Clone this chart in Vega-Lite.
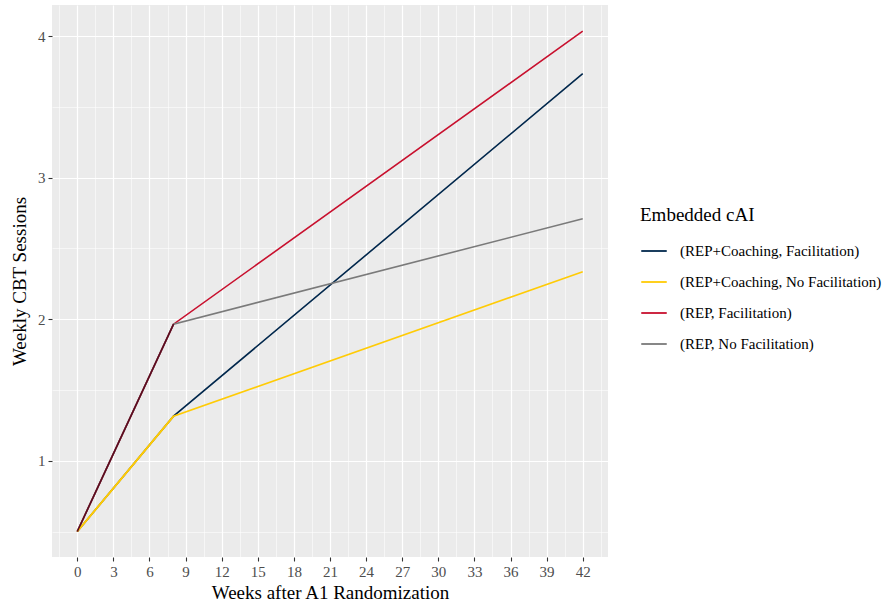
{
  "$schema": "https://vega.github.io/schema/vega-lite/v6.json",
  "width": 556,
  "height": 552,
  "autosize": {"type": "none"},
  "padding": {"left": 52, "top": 5, "right": 285, "bottom": 48},
  "background": "white",
  "config": {
    "font": "Liberation Serif",
    "view": {"fill": "#EBEBEB", "stroke": null}
  },
  "data": {
    "values": [
      {"series": "(REP+Coaching, Facilitation)", "week": 0, "sessions": 0.5},
      {"series": "(REP+Coaching, Facilitation)", "week": 8, "sessions": 1.315},
      {"series": "(REP+Coaching, Facilitation)", "week": 42, "sessions": 3.735},
      {"series": "(REP+Coaching, No Facilitation)", "week": 0, "sessions": 0.5},
      {"series": "(REP+Coaching, No Facilitation)", "week": 8, "sessions": 1.315},
      {"series": "(REP+Coaching, No Facilitation)", "week": 42, "sessions": 2.335},
      {"series": "(REP, Facilitation)", "week": 0, "sessions": 0.5},
      {"series": "(REP, Facilitation)", "week": 8, "sessions": 1.965},
      {"series": "(REP, Facilitation)", "week": 42, "sessions": 4.035},
      {"series": "(REP, No Facilitation)", "week": 0, "sessions": 0.5},
      {"series": "(REP, No Facilitation)", "week": 8, "sessions": 1.965},
      {"series": "(REP, No Facilitation)", "week": 42, "sessions": 2.71}
    ]
  },
  "encoding": {
    "x": {
      "field": "week",
      "type": "quantitative",
      "scale": {"domain": [-2.1, 44.1], "nice": false, "zero": false},
      "axis": {
        "title": "Weeks after A1 Randomization",
        "titleFontSize": 19,
        "titleFontWeight": "normal",
        "titleColor": "black",
        "titlePadding": 4,
        "values": [-1.5, 0, 1.5, 3, 4.5, 6, 7.5, 9, 10.5, 12, 13.5, 15, 16.5, 18, 19.5, 21, 22.5, 24, 25.5, 27, 28.5, 30, 31.5, 33, 34.5, 36, 37.5, 39, 40.5, 42, 43.5],
        "labelExpr": "datum.value % 3 === 0 ? format(datum.value, 'd') : ''",
        "labelOverlap": false,
        "labelFontSize": 15,
        "labelColor": "#4D4D4D",
        "labelPadding": 3,
        "domain": false,
        "tickColor": "#333333",
        "tickSize": 4,
        "tickWidth": 1.1,
        "tickOpacity": {"condition": {"test": "datum.value % 3 === 0", "value": 1}, "value": 0},
        "grid": true,
        "gridColor": "white",
        "gridOpacity": 1,
        "gridWidth": {"condition": {"test": "datum.value % 3 === 0", "value": 1.2}, "value": 0.55}
      }
    },
    "y": {
      "field": "sessions",
      "type": "quantitative",
      "scale": {"domain": [0.32, 4.22], "nice": false, "zero": false},
      "axis": {
        "title": "Weekly CBT Sessions",
        "titleFontSize": 19,
        "titleFontWeight": "normal",
        "titleColor": "black",
        "titlePadding": 8,
        "values": [0.5, 1, 1.5, 2, 2.5, 3, 3.5, 4],
        "labelExpr": "datum.value % 1 === 0 ? format(datum.value, 'd') : ''",
        "labelOverlap": false,
        "labelFontSize": 15,
        "labelColor": "#4D4D4D",
        "labelPadding": 3,
        "domain": false,
        "tickColor": "#333333",
        "tickSize": 4,
        "tickWidth": 1.1,
        "tickOpacity": {"condition": {"test": "datum.value % 1 === 0", "value": 1}, "value": 0},
        "grid": true,
        "gridColor": "white",
        "gridOpacity": 1,
        "gridWidth": {"condition": {"test": "datum.value % 1 === 0", "value": 1.2}, "value": 0.55}
      }
    }
  },
  "layer": [
    {
      "mark": {"type": "line", "strokeWidth": 1.6},
      "encoding": {
        "color": {
          "field": "series",
          "type": "nominal",
          "scale": {
            "domain": ["(REP+Coaching, Facilitation)", "(REP+Coaching, No Facilitation)", "(REP, Facilitation)", "(REP, No Facilitation)"],
            "range": ["#00274C", "#FFCB05", "#C8102E", "#7A7A7A"]
          },
          "legend": {
            "title": "Embedded cAI",
            "titleFontSize": 19,
            "titleFontWeight": "normal",
            "titleColor": "black",
            "titlePadding": 12,
            "labelFontSize": 15,
            "labelColor": "black",
            "labelLimit": 0,
            "symbolType": "stroke",
            "symbolSize": 650,
            "symbolStrokeWidth": 1.8,
            "rowPadding": 9,
            "labelOffset": 12,
            "orient": "none",
            "legendX": 588,
            "legendY": 201
          }
        }
      }
    },
    {
      "transform": [
        {"filter": "datum.week <= 8 && (datum.series === '(REP+Coaching, No Facilitation)')"}
      ],
      "mark": {"type": "line", "strokeWidth": 1.7, "color": "#FFCB05"}
    },
    {
      "transform": [
        {"filter": "datum.week <= 8 && (datum.series === '(REP, Facilitation)')"}
      ],
      "mark": {"type": "line", "strokeWidth": 1.6, "color": "#5C0A1E"}
    }
  ]
}
